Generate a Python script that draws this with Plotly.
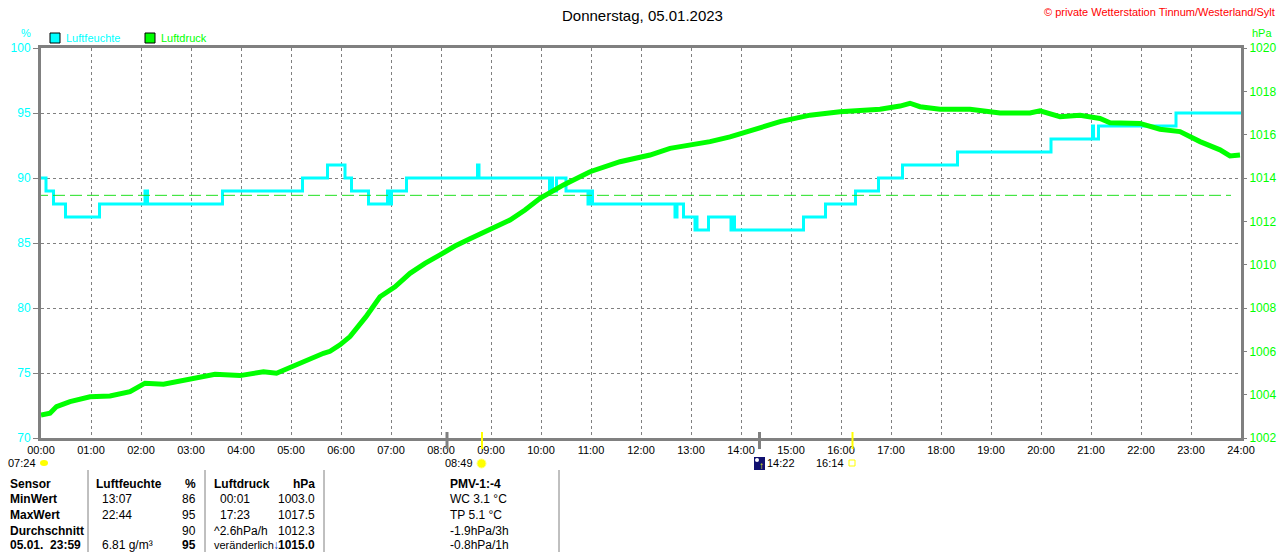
"""Tagesgrafik Luftfeuchte / Luftdruck, Donnerstag 05.01.2023."""
import plotly.graph_objects as go

# --- data -------------------------------------------------------------
hours = list(range(25))
hour_labels = [f"{h:02d}:00" for h in hours]

# Luftfeuchte (%), step series: time in decimal hours, value valid from that time
hum_t = [0.00, 0.10, 0.25, 0.49, 1.17, 2.08, 2.13, 3.63, 5.23, 5.73, 6.08, 6.21,
         6.55, 6.93, 6.95, 7.01, 7.31, 8.73, 8.76, 10.17, 10.21, 10.23, 10.31,
         10.50, 10.94, 10.98, 11.03, 12.68, 12.72, 12.85, 13.08, 13.10, 13.12,
         13.35, 13.80, 13.84, 13.87, 15.25, 15.69, 16.29, 16.75, 17.23, 18.33,
         20.20, 21.03, 21.05, 21.15, 22.70, 24.00]
hum_v = [90, 89, 88, 87, 88, 89, 88, 89, 90, 91, 90, 89,
         88, 89, 88, 89, 90, 91, 90, 89, 90, 89, 90,
         89, 88, 89, 88, 87, 88, 87, 86, 87, 86,
         87, 86, 87, 86, 87, 88, 89, 90, 91, 92,
         93, 94, 93, 94, 95, 95]

# Luftdruck (hPa)
press_t = [0.00, 0.18, 0.31, 0.58, 0.98, 1.38, 1.78, 2.08, 2.45, 2.98, 3.48, 3.98,
           4.45, 4.71, 4.98, 5.38, 5.65, 5.78, 5.98, 6.18, 6.50, 6.78, 7.08, 7.38,
           7.68, 7.98, 8.28, 8.58, 8.98, 9.38, 9.68, 9.98, 10.45, 10.98, 11.58,
           12.18, 12.58, 12.98, 13.38, 13.78, 14.18, 14.48, 14.78, 15.08, 15.38,
           15.98, 16.38, 16.78, 17.18, 17.38, 17.58, 17.98, 18.58, 19.18, 19.78,
           19.98, 20.38, 20.78, 21.18, 21.38, 21.98, 22.38, 22.78, 23.18, 23.58,
           23.78, 23.98]
press_v = [1003.06, 1003.14, 1003.45, 1003.68, 1003.90, 1003.94, 1004.14, 1004.53,
           1004.48, 1004.70, 1004.94, 1004.88, 1005.06, 1004.99, 1005.25, 1005.68,
           1005.91, 1006.00, 1006.30, 1006.68, 1007.60, 1008.52, 1008.98, 1009.60,
           1010.06, 1010.45, 1010.86, 1011.20, 1011.60, 1012.06, 1012.52, 1013.06,
           1013.68, 1014.29, 1014.75, 1015.06, 1015.37, 1015.52, 1015.68, 1015.90,
           1016.20, 1016.37, 1016.60, 1016.75, 1016.90, 1017.06, 1017.10, 1017.17,
           1017.32, 1017.45, 1017.29, 1017.17, 1017.17, 1017.00, 1017.00, 1017.10,
           1016.83, 1016.90, 1016.75, 1016.55, 1016.52, 1016.25, 1016.14, 1015.68,
           1015.30, 1015.02, 1015.06]
press_ref = 1013.2  # dashed reference line

# sun / moon events (decimal hours) drawn as ticks below the axis
event_t = [8.12, 8.82, 14.37, 16.23]
event_color = ["#808080", "#FFFF00", "#808080", "#FFFF00"]

table_rows = [
    ["Sensor", "Luftfeuchte", "%", "Luftdruck", "hPa", "PMV-1:-4"],
    ["MinWert", "13:07", "86", "00:01", "1003.0", "WC 3.1 °C"],
    ["MaxWert", "22:44", "95", "17:23", "1017.5", "TP 5.1 °C"],
    ["Durchschnitt", "", "90", "^2.6hPa/h", "1012.3", "-1.9hPa/3h"],
    ["05.01.  23:59", "6.81 g/m³", "95", "veränderlich", "1015.0", "-0.8hPa/1h"],
]

CYAN = "#00FFFF"
GREEN = "#00FF00"
GRAY = "#808080"
FONT = "Liberation Sans, Arial, sans-serif"


def px(x):
    return (x - 41) / 1200


def py(y):
    return (438 - y) / 390


fig = go.Figure()
fig.add_trace(go.Scatter(x=hum_t, y=hum_v, mode="lines", yaxis="y",
                         line=dict(color=CYAN, width=3, shape="hv")))
fig.add_trace(go.Scatter(x=press_t, y=press_v, mode="lines", yaxis="y2",
                         line=dict(color=GREEN, width=5)))

shapes = [dict(type="line", xref="x", yref="y2", x0=-0.1, x1=23.8,
               y0=press_ref, y1=press_ref,
               line=dict(color="#20E020", width=1, dash="12px,5px"))]
for t, c in zip(event_t, event_color):
    shapes.append(dict(type="line", xref="x", yref="paper", x0=t, x1=t,
                       y0=py(432), y1=py(449),
                       line=dict(color=c, width=3 if c == GRAY else 2)))
# legend boxes
shapes.append(dict(type="rect", xref="paper", yref="paper", x0=px(50), x1=px(60),
                   y0=py(43), y1=py(33), fillcolor=CYAN, line=dict(color="black", width=1)))
shapes.append(dict(type="rect", xref="paper", yref="paper", x0=px(145), x1=px(155),
                   y0=py(43), y1=py(33), fillcolor=GREEN, line=dict(color="black", width=1)))
# table separators
for sx in [88, 205, 324, 559]:
    shapes.append(dict(type="line", xref="paper", yref="paper", x0=px(sx), x1=px(sx),
                       y0=py(470), y1=py(560), line=dict(color=GRAY, width=1)))
# event icons
shapes.append(dict(type="circle", xref="paper", yref="paper", x0=px(40), x1=px(48),
                   y0=py(466), y1=py(460), fillcolor="#FFFF00", line=dict(width=0)))
shapes.append(dict(type="circle", xref="paper", yref="paper", x0=px(477), x1=px(486),
                   y0=py(468), y1=py(459), fillcolor="#FFFF00", line=dict(color="#FFFF80", width=1)))
shapes.append(dict(type="rect", xref="paper", yref="paper", x0=px(754), x1=px(765),
                   y0=py(470), y1=py(457), fillcolor="#101070", line=dict(width=0)))
shapes.append(dict(type="circle", xref="paper", yref="paper", x0=px(755), x1=px(759),
                   y0=py(462), y1=py(458), fillcolor="white", line=dict(width=0)))
shapes.append(dict(type="rect", xref="paper", yref="paper", x0=px(849), x1=px(855),
                   y0=py(466), y1=py(460), fillcolor="white", line=dict(color="#FFFF00", width=1)))

ann = []


def text(x, y, s, color="black", size=11, anchor="left", bold=False):
    if bold:
        s = f"<b>{s}</b>"
    ann.append(dict(x=px(x), y=py(y), xref="paper", yref="paper", text=s,
                    showarrow=False, xanchor=anchor, yanchor="middle",
                    font=dict(family=FONT, size=size, color=color)))


text(642, 15, "Donnerstag, 05.01.2023", size=15, anchor="center")
text(1277, 12, "© private Wetterstation Tinnum/Westerland/Sylt", color="#FF0000", size=11, anchor="right")
text(26, 33, "%", color=CYAN, size=11, anchor="center")
text(1250, 33, "hPa", color=GREEN, size=11)
text(64, 38, "Luftfeuchte", color=CYAN, size=11)
text(159, 38, "Luftdruck", color=GREEN, size=11)

text(38, 463, "07:24", anchor="right")
text(475, 463, "08:49", anchor="right")
text(765, 463, "14:22")
text(846, 463, "16:14", anchor="right")
text(761, 465, "<b>↑</b>", color="#FFFF00", size=10, anchor="center")

col_x = [8, 94, 198, 212, 317, 448]
col_anchor = ["left", "left", "right", "left", "right", "left"]
row_y = [484, 499.5, 515, 530.5, 545]
for r, row in enumerate(table_rows):
    for c, cell in enumerate(row):
        if not cell:
            continue
        x = col_x[c]
        if r > 0 and c in (1, 3) and cell[0].isdigit():
            x += 6
        bold = r == 0 or c == 0 or (r == 4 and c in (2, 4))
        size = 11 if (r == 4 and c == 3) else 12
        text(x, row_y[r], cell, anchor=col_anchor[c], bold=bold, size=size)
text(276, 545, "<b>↓</b>", color="#2040C0", size=12, anchor="center")

fig.update_layout(
    width=1280, height=552,
    margin=dict(l=41, r=39, t=48, b=114),
    paper_bgcolor="white", plot_bgcolor="white",
    showlegend=False,
    font=dict(family=FONT, size=11, color="black"),
    shapes=shapes, annotations=ann,
    xaxis=dict(range=[0, 24], tickvals=hours, ticktext=hour_labels,
               showline=True, linecolor=GRAY, linewidth=3, mirror=True,
               showgrid=True, gridcolor=GRAY, gridwidth=1, griddash="3px,3px",
               zeroline=False, ticks="", automargin=False,
               tickfont=dict(size=11, color="black")),
    yaxis=dict(range=[70, 100], tickvals=[70, 75, 80, 85, 90, 95, 100],
               showline=True, linecolor=GRAY, linewidth=3, mirror=True,
               ticks="outside", ticklen=5, tickcolor=GRAY, automargin=False,
               showgrid=True, gridcolor=GRAY, gridwidth=1, griddash="3px,3px",
               zeroline=False, tickfont=dict(size=12, color=CYAN)),
    yaxis2=dict(range=[1002, 1020], tickvals=list(range(1002, 1021, 2)),
                overlaying="y", side="right", showgrid=False, zeroline=False,
                ticks="outside", ticklen=5, tickcolor=GRAY, automargin=False,
                tickfont=dict(size=12, color=GREEN)),
)

fig.write_html("out.html", config={"displayModeBar": False},
               post_script="document.body.style.margin='0px';")
